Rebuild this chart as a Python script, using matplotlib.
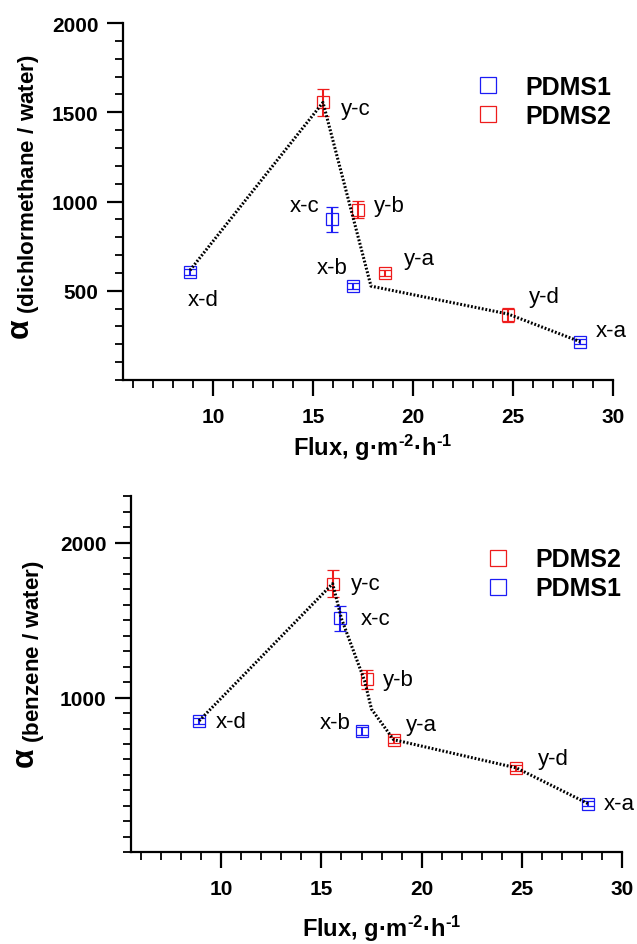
import numpy as np
import matplotlib
matplotlib.use("Agg")
import matplotlib.pyplot as plt
from matplotlib.ticker import FixedLocator, MultipleLocator
from matplotlib.lines import Line2D

plt.rcParams['font.family'] = ['Liberation Sans', 'DejaVu Sans']
plt.rcParams['mathtext.fontset'] = 'custom'
plt.rcParams['mathtext.rm'] = 'Liberation Sans'
plt.rcParams['mathtext.bf'] = 'Liberation Sans:bold'
plt.rcParams['mathtext.it'] = 'Liberation Sans:italic'

BLUE = '#1c1cf5'
RED = '#ee1c1c'

# ---- top panel: dichlormethane / water ----
top_pdms1_labels = ['x-a', 'x-b', 'x-c', 'x-d']
top_pdms1_flux = [28.35, 17.0, 15.95, 8.85]
top_pdms1_alpha = [215, 526, 900, 605]
top_pdms1_err = [15, 15, 70, 15]

top_pdms2_labels = ['y-a', 'y-b', 'y-c', 'y-d']
top_pdms2_flux = [18.6, 17.27, 15.5, 24.75]
top_pdms2_alpha = [600, 955, 1555, 365]
top_pdms2_err = [15, 50, 77, 40]

top_trend_flux = [8.85, 15.5, 17.9, 24.75, 28.35]
top_trend_alpha = [615, 1555, 526, 370, 215]

# ---- bottom panel: benzene / water ----
bot_pdms1_labels = ['x-a', 'x-b', 'x-c', 'x-d']
bot_pdms1_flux = [28.3, 17.0, 15.94, 8.87]
bot_pdms1_alpha = [315, 786, 1511, 846]
bot_pdms1_err = [15, 25, 78, 20]

bot_pdms2_labels = ['y-a', 'y-b', 'y-c', 'y-d']
bot_pdms2_flux = [18.6, 17.27, 15.56, 24.72]
bot_pdms2_alpha = [728, 1119, 1736, 546]
bot_pdms2_err = [20, 62, 88, 20]

bot_trend_flux = [8.9, 15.56, 16.0, 17.15, 17.5, 18.6, 24.72, 28.3]
bot_trend_alpha = [850, 1736, 1510, 1110, 925, 728, 546, 315]

# label offsets in pixels (same order as labels above)
top_off1 = [(31, 11), (-21, 19), (-27, 14), (13, -27)]
top_off2 = [(34, 14), (31, 4), (33, -6), (36, 18)]
bot_off1 = [(31, 0), (-26, 8), (35, 0), (33, 0)]
bot_off2 = [(28, 15), (31, 0), (33, 0), (37, 9)]


def style_axes(ax, ymax, yticks):
    for s in ['top', 'right']:
        ax.spines[s].set_visible(False)
    for s in ['left', 'bottom']:
        ax.spines[s].set_linewidth(1.6)
    ax.set_xlim(5.5, 30)
    ax.set_ylim(0, ymax)
    ax.xaxis.set_major_locator(FixedLocator([10, 15, 20, 25, 30]))
    ax.xaxis.set_minor_locator(MultipleLocator(1))
    ax.yaxis.set_major_locator(FixedLocator(yticks))
    ax.yaxis.set_minor_locator(MultipleLocator(100))
    ax.tick_params(which='major', direction='out', length=11.5, width=1.6,
                   labelsize=15)
    ax.tick_params(which='minor', direction='out', length=5.8, width=1.3)
    ax.tick_params(axis='x', which='major', pad=8)
    ax.tick_params(axis='y', which='major', pad=6)
    for lab in ax.get_xticklabels() + ax.get_yticklabels():
        lab.set_fontweight('bold')


def draw_series(ax, flux, alpha, err, labels, offs, color):
    ax.errorbar(flux, alpha, yerr=err, fmt='s', ms=9, mfc='none', mec=color,
                mew=0.9, ecolor=color, elinewidth=1.5, capsize=4.5,
                capthick=1.5, zorder=2)
    for x, y, t, o in zip(flux, alpha, labels, offs):
        ax.annotate(t, (x, y), xytext=o, textcoords='offset pixels',
                    ha='center', va='center', fontsize=16)


fig = plt.figure(figsize=(6.37, 9.45), dpi=100)
ax1 = fig.add_axes([0.1931, 0.5968, 0.7692, 0.3778])
ax2 = fig.add_axes([0.2057, 0.0970, 0.7708, 0.3767])

# top
ax1.plot(top_trend_flux, top_trend_alpha, color='black', lw=2.2,
         ls=(0, (0.6, 0.6)), zorder=3)
draw_series(ax1, top_pdms1_flux, top_pdms1_alpha, top_pdms1_err,
            top_pdms1_labels, top_off1, BLUE)
draw_series(ax1, top_pdms2_flux, top_pdms2_alpha, top_pdms2_err,
            top_pdms2_labels, top_off2, RED)
style_axes(ax1, 2000, [500, 1000, 1500, 2000])

# bottom
ax2.plot(bot_trend_flux, bot_trend_alpha, color='black', lw=2.2,
         ls=(0, (0.6, 0.6)), zorder=3)
draw_series(ax2, bot_pdms1_flux, bot_pdms1_alpha, bot_pdms1_err,
            bot_pdms1_labels, bot_off1, BLUE)
draw_series(ax2, bot_pdms2_flux, bot_pdms2_alpha, bot_pdms2_err,
            bot_pdms2_labels, bot_off2, RED)
style_axes(ax2, 2300, [1000, 2000])

xlab = 'Flux, g\u00b7m$^{\\mathbf{\u20102}}$\u00b7h$^{\\mathbf{\u20101}}$'
for ax, yc in [(ax1, -0.145), (ax2, -0.17)]:
    ax.set_xlabel(xlab, fontsize=17, fontweight='bold')
    ax.xaxis.set_label_coords(0.51, yc)

ax1.set_ylabel(r'$\mathbf{\alpha}_{\ \mathbf{(dichlormethane\ /\ water)}}$',
               fontsize=23)
ax1.yaxis.set_label_coords(-0.165, 0.515)
ax2.set_ylabel(r'$\mathbf{\alpha}_{\ \mathbf{(benzene\ /\ water)}}$',
               fontsize=23)
ax2.yaxis.set_label_coords(-0.171, 0.529)


def legend_handle(color):
    return Line2D([], [], marker='s', ls='none', ms=12, mfc='none',
                  mec=color, mew=0.9)


leg_kw = dict(frameon=False, handlelength=1.0, handletextpad=1.0,
              labelspacing=0.2, borderpad=0, borderaxespad=0,
              prop={'weight': 'bold', 'size': 18}, loc='upper left')
ax1.legend([legend_handle(BLUE), legend_handle(RED)], ['PDMS1', 'PDMS2'],
           bbox_to_anchor=(0.719, 0.854), **leg_kw)
ax2.legend([legend_handle(RED), legend_handle(BLUE)], ['PDMS2', 'PDMS1'],
           bbox_to_anchor=(0.721, 0.857), **leg_kw)

fig.savefig('out.png', dpi=100)
